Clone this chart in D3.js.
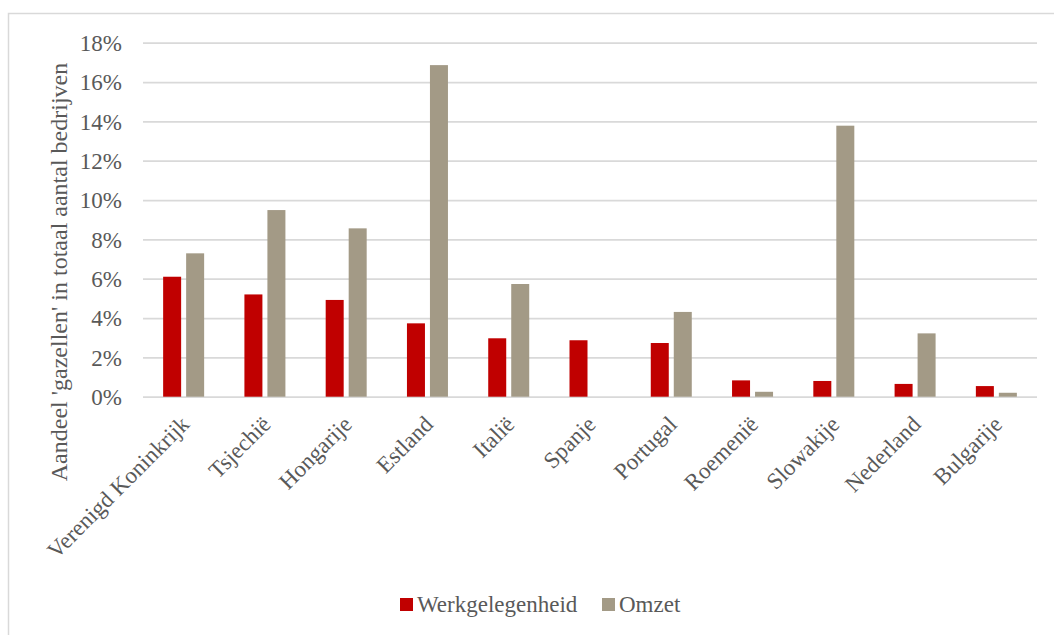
<!DOCTYPE html>
<html><head><meta charset="utf-8">
<script src="https://cdn.jsdelivr.net/npm/d3@7"></script>
<style>body{margin:0;background:#fff}svg{display:block}
svg text{font-family:"Liberation Serif","Times New Roman",serif !important;}
</style>
</head><body>
<svg id="c" width="1054" height="635"></svg>
<script>
const categories = ["Verenigd Koninkrijk","Tsjechië","Hongarije","Estland","Italië","Spanje","Portugal","Roemenië","Slowakije","Nederland","Bulgarije"];
const werkgelegenheid = [6.1, 5.2, 4.92, 3.73, 2.97, 2.87, 2.73, 0.83, 0.8, 0.65, 0.54];
const omzet = [7.29, 9.49, 8.56, 16.86, 5.73, 0, 4.31, 0.25, 13.78, 3.22, 0.2];
const seriesNames = ["Werkgelegenheid","Omzet"];
const yTicks = [0,2,4,6,8,10,12,14,16,18];

const colors = ["#C00000","#A39A86"];
const textColor = "#595959";
const svg = d3.select("#c");

svg.append("path").attr("d","M8.5,635 L8.5,13.5 L1054,13.5").attr("fill","none").attr("stroke","#d9d9d9").attr("stroke-width",1.5);

const L=143, R=1037, T=42.7, B=396.7;
const x = d3.scaleBand().domain(categories).range([L,R]).paddingInner(0).paddingOuter(0);
const y = d3.scaleLinear().domain([0,18]).range([B,T]);

const gy = svg.append("g").attr("transform",`translate(${L},0)`)
  .call(d3.axisLeft(y).tickValues(yTicks).tickSize(-(R-L)).tickFormat(d=>d+"%").tickPadding(21));
gy.select(".domain").remove();
gy.selectAll(".tick line").attr("stroke","#d9d9d9").attr("stroke-width",1.8);
gy.selectAll(".tick text").attr("font-size",23).attr("fill",textColor).attr("dy","0.34em");

const bw = 18, gap = 5;
const data = [werkgelegenheid, omzet];
data.forEach((vals,si)=>{
  svg.append("g").selectAll("rect").data(categories).join("rect")
    .attr("x",(c)=>x(c)+x.bandwidth()/2 + (si===0 ? -(bw+gap/2) : gap/2))
    .attr("width",bw)
    .attr("y",(c,i)=>y(vals[i]))
    .attr("height",(c,i)=>B-y(vals[i]))
    .attr("fill",colors[si]);
});

const gx = svg.append("g").attr("transform",`translate(0,${B})`)
  .call(d3.axisBottom(x).tickSize(0).tickPadding(0));
gx.select(".domain").remove();
gx.selectAll(".tick text")
  .attr("font-size",23).attr("fill",textColor)
  .attr("text-anchor","end").attr("dy","0")
  .attr("transform","translate(7,29) rotate(-45)");

svg.append("text").attr("transform",`translate(67,272) rotate(-90)`)
  .attr("text-anchor","middle").attr("font-size",24).attr("fill",textColor)
  .text("Aandeel 'gazellen' in totaal aantal bedrijven");

const legX = [400, 602];
seriesNames.forEach((n,i)=>{
  svg.append("rect").attr("x",legX[i]).attr("y",598).attr("width",13).attr("height",13).attr("fill",colors[i]);
  svg.append("text").attr("x",legX[i]+17).attr("y",612).attr("font-size",23).attr("fill",textColor).text(n);
});
</script>
</body></html>
